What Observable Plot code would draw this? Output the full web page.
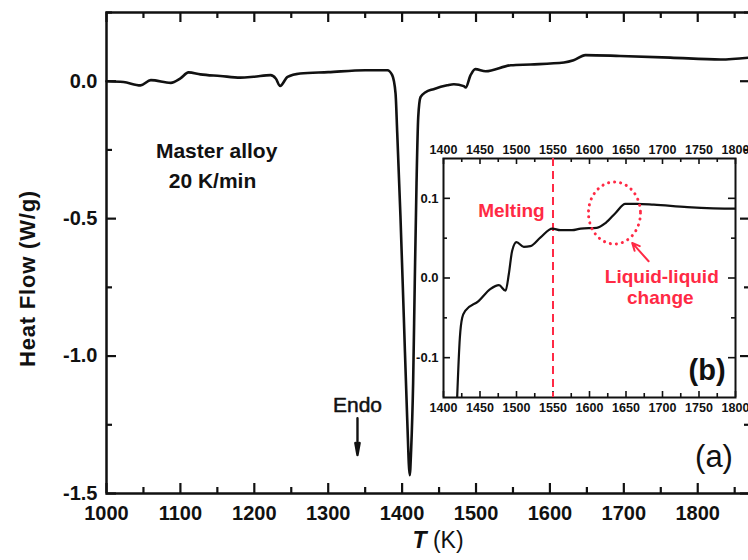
<!DOCTYPE html>
<html><head><meta charset="utf-8">
<script src="https://cdn.jsdelivr.net/npm/d3@7"></script>
<script src="https://cdn.jsdelivr.net/npm/@observablehq/plot@0.6"></script>
<style>
html,body{margin:0;padding:0;overflow:hidden;background:#fff;width:748px;height:560px}
#wrap{position:relative;width:752px;height:560px;font-family:"Liberation Sans",Arial,sans-serif}
#main{position:absolute;left:0;top:0}
#inset{position:absolute;left:400px;top:130px}
</style>
</head><body><div id="wrap"><div id="main"></div><div id="inset"></div></div>
<script>
// ---- Main DSC curve (a) ----
const mainT = [1000, 1023, 1046, 1060, 1087, 1100, 1111, 1127, 1154, 1181, 1199, 1222, 1229, 1235, 1245, 1262, 1300, 1350, 1380, 1386.6, 1391.1, 1393.4, 1397.8, 1402.3, 1406.8, 1410.3, 1412.2, 1414.9, 1417.1, 1419.5, 1421.8, 1424.9, 1431.7, 1442.5, 1461, 1470, 1483.5, 1486, 1492.6, 1499, 1513, 1547, 1574, 1619, 1632, 1648, 1695, 1763, 1831, 1870];
const mainHF = [0, -0.003, -0.015, 0.004, -0.006, 0.010, 0.032, 0.025, 0.019, 0.013, 0.016, 0.022, 0.010, -0.017, 0.016, 0.028, 0.033, 0.040, 0.040, 0.022, -0.044, -0.189, -0.495, -0.858, -1.222, -1.433, -1.342, -1.098, -0.735, -0.371, -0.131, -0.058, -0.040, -0.029, -0.015, -0.011, -0.018, -0.023, 0.022, 0.044, 0.036, 0.058, 0.061, 0.068, 0.076, 0.095, 0.092, 0.086, 0.079, 0.086];
// ---- Inset curve (b) ----
const insetT = [1418.5, 1422.4, 1425.6, 1430, 1448, 1464, 1476, 1485, 1489.5, 1494, 1500, 1510, 1519, 1533, 1549, 1560, 1576, 1588, 1610, 1622, 1636, 1649, 1665, 1688, 1734, 1798, 1800];
const insetHF = [-0.155, -0.075, -0.05, -0.041, -0.029, -0.014, -0.009, -0.016, 0.005, 0.034, 0.045, 0.039, 0.040, 0.051, 0.062, 0.060, 0.060, 0.062, 0.063, 0.069, 0.082, 0.093, 0.093, 0.092, 0.089, 0.087, 0.087];
// ---- Ticks ----
const xMajor = [1000, 1100, 1200, 1300, 1400, 1500, 1600, 1700, 1800];
const xMinor = [1050, 1150, 1250, 1350, 1450, 1550, 1650, 1750, 1850];
const yMajor = [0.0, -0.5, -1.0, -1.5];
const yMinor = [0.25, -0.25, -0.75, -1.25];
const inXMajor = [1400, 1450, 1500, 1550, 1600, 1650, 1700, 1750, 1800];
const inXMinor = [1425, 1475, 1525, 1575, 1625, 1675, 1725, 1775];
const inYMajor = [-0.1, 0.0, 0.1];
const inYMinor = [-0.05, 0.05];
const meltingT = [1550];
const red = "#ff2a45";
const FONT = "Liberation Sans, Arial, sans-serif";

const mainData = mainT.map((t, i) => ({t, v: mainHF[i]}));
const insetData = insetT.map((t, i) => ({t, v: insetHF[i]}));

// main geometry
const W = 752, H = 560, mL = 106, mR = 2, mT = 12, mB = 67;
const fw = W - mL - mR, fh = H - mT - mB;

const main = Plot.plot({
  width: W, height: H,
  marginLeft: mL, marginRight: mR, marginTop: mT, marginBottom: mB,
  style: {fontFamily: FONT, color: "#111", background: "transparent"},
  x: {domain: [1000, 1871.4]},
  y: {domain: [-1.5, 0.25]},
  marks: [
    Plot.frame({stroke: "#111", strokeWidth: 2.5}),
    Plot.ruleX(xMajor, {insetTop: fh - 10, stroke: "#111", strokeWidth: 2.2}),
    Plot.ruleX(xMajor, {insetBottom: fh - 10, stroke: "#111", strokeWidth: 2.2}),
    Plot.ruleX(xMinor, {insetTop: fh - 6, stroke: "#111", strokeWidth: 2.2}),
    Plot.ruleX(xMinor, {insetBottom: fh - 6, stroke: "#111", strokeWidth: 2.2}),
    Plot.ruleY(yMajor, {insetRight: fw - 10, stroke: "#111", strokeWidth: 2.2}),
    Plot.ruleY(yMajor, {insetLeft: fw - 10, stroke: "#111", strokeWidth: 2.2}),
    Plot.ruleY(yMinor, {insetRight: fw - 6, stroke: "#111", strokeWidth: 2.2}),
    Plot.ruleY(yMinor, {insetLeft: fw - 6, stroke: "#111", strokeWidth: 2.2}),
    Plot.axisX({ticks: xMajor, tickSize: 0, tickPadding: 12, tickFormat: d => String(d), label: null, fontSize: 20}),
    Plot.axisY({ticks: yMajor, tickSize: 0, tickPadding: 9, tickFormat: d => d.toFixed(1), label: null, fontSize: 20}),
    Plot.line(mainData, {x: "t", y: "v", stroke: "#111", strokeWidth: 2.6, curve: "monotone-x"}),
    Plot.text(["Master alloy"], {x: 1149, y: -0.256, text: d => d, fontSize: 21, fontWeight: "bold", fill: "#111"}),
    Plot.text(["20 K/min"], {x: 1143.4, y: -0.365, text: d => d, fontSize: 21, fontWeight: "bold", fill: "#111"}),
    Plot.text(["Endo"], {x: 1339.6, y: -1.18, text: d => d, fontSize: 21, fill: "#111", stroke: "#111", strokeWidth: 0.5}),
    Plot.arrow([{x: 1339.6, y1: -1.226, y2: -1.36}], {x1: "x", x2: "x", y1: "y1", y2: "y2", stroke: "#111", strokeWidth: 2.4, headLength: 18, headAngle: 20}),
    Plot.text(["(a)"], {x: 1822, y: -1.366, text: d => d, fontSize: 31, fill: "#111"}),
    Plot.text(["Heat Flow (W/g)"], {frameAnchor: "left", textAnchor: "middle", dx: -79, dy: 25.5, rotate: -90, text: d => d, fontSize: 22, fontWeight: "bold", fill: "#111"}),
    Plot.text(["T (K)"], {frameAnchor: "bottom", textAnchor: "middle", dx: 9.5, dy: 54.6, text: d => d, fontSize: 23, fill: "#111"})
  ]
});
document.getElementById("main").appendChild(main);

// fix x-label styling (italic T) and y-label spacing
d3.select(main).selectAll("text").filter(function() { return this.textContent === "T (K)"; })
  .each(function() {
    const t = d3.select(this); t.text(null);
    t.append("tspan").attr("font-style", "italic").attr("font-weight", "bold").text("T");
    t.append("tspan").text(" (K)");
  });
d3.select(main).selectAll("text").filter(function() { return this.textContent === "Heat Flow (W/g)"; })
  .attr("letter-spacing", "0.8px");

// inset geometry
const iW = 348, iH = 290, iL = 43, iR = 13, iT = 28, iB = 23;
const ifw = iW - iL - iR, ifh = iH - iT - iB;
const inset = Plot.plot({
  width: iW, height: iH,
  marginLeft: iL, marginRight: iR, marginTop: iT, marginBottom: iB,
  style: {fontFamily: FONT, color: "#111", background: "transparent", overflow: "visible"},
  x: {domain: [1400, 1800]},
  y: {domain: [-0.15, 0.15]},
  marks: [
    Plot.frame({stroke: "#111", strokeWidth: 2}),
    Plot.ruleX(inXMajor, {insetTop: ifh - 6, stroke: "#111", strokeWidth: 1.6}),
    Plot.ruleX(inXMajor, {insetBottom: ifh - 6, stroke: "#111", strokeWidth: 1.6}),
    Plot.ruleX(inXMinor, {insetTop: ifh - 4, stroke: "#111", strokeWidth: 1.6}),
    Plot.ruleX(inXMinor, {insetBottom: ifh - 4, stroke: "#111", strokeWidth: 1.6}),
    Plot.ruleY(inYMajor, {insetRight: ifw - 7, stroke: "#111", strokeWidth: 1.6}),
    Plot.ruleY(inYMajor, {insetLeft: ifw - 7, stroke: "#111", strokeWidth: 1.6}),
    Plot.ruleY(inYMinor, {insetRight: ifw - 4, stroke: "#111", strokeWidth: 1.6}),
    Plot.ruleY(inYMinor, {insetLeft: ifw - 4, stroke: "#111", strokeWidth: 1.6}),
    Plot.axisX({anchor: "top", ticks: inXMajor, tickSize: 0, tickPadding: 5, tickFormat: d => String(d), label: null, fontSize: 12.5}),
    Plot.axisX({anchor: "bottom", ticks: inXMajor, tickSize: 0, tickPadding: 6, tickFormat: d => String(d), label: null, fontSize: 12.5}),
    Plot.axisY({ticks: inYMajor, tickSize: 0, tickPadding: 5, tickFormat: d => d.toFixed(1), label: null, fontSize: 13}),
    Plot.ruleX(meltingT, {stroke: red, strokeWidth: 2, strokeDasharray: "8,5"}),
    Plot.line(insetData, {x: "t", y: "v", stroke: "#111", strokeWidth: 2.2, curve: "monotone-x", clip: true}),
    Plot.dot([{t: 1634.2, v: 0.0816}], {x: "t", y: "v", r: 28.5, stroke: red, strokeWidth: 3, strokeDasharray: "0.1,6", strokeLinecap: "round", fill: "none"}),
    Plot.arrow([{x1: 1681, y1: 0.021, x2: 1658.5, y2: 0.044}], {x1: "x1", y1: "y1", x2: "x2", y2: "y2", stroke: red, strokeWidth: 2, headLength: 9, headAngle: 50}),
    Plot.text(["Melting"], {x: 1493, y: 0.084, text: d => d, fontSize: 19, fontWeight: "bold", fill: red}),
    Plot.text(["Liquid-liquid"], {x: 1699, y: 0.0018, text: d => d, fontSize: 19, fontWeight: "bold", fill: red}),
    Plot.text(["change"], {x: 1697, y: -0.025, text: d => d, fontSize: 19, fontWeight: "bold", fill: red}),
    Plot.text(["(b)"], {x: 1761, y: -0.1164, text: d => d, fontSize: 29, fontWeight: "bold", fill: "#111"})
  ]
});
document.getElementById("inset").appendChild(inset);

// bold tick labels, as in the original
for (const svg of [main, inset]) {
  d3.select(svg).selectAll('g[aria-label$="tick label"]').attr("font-weight", "bold");
}

// turn the highlight circle into the slightly taller ellipse of the original
d3.select(inset).selectAll("circle").each(function() {
  const c = d3.select(this);
  const p = d3.select(this.parentNode);
  p.insert("ellipse", () => this)
    .attr("cx", c.attr("cx")).attr("cy", c.attr("cy"))
    .attr("rx", 26).attr("ry", 31)
    .attr("transform", c.attr("transform"));
  c.remove();
});
</script>
</body></html>
